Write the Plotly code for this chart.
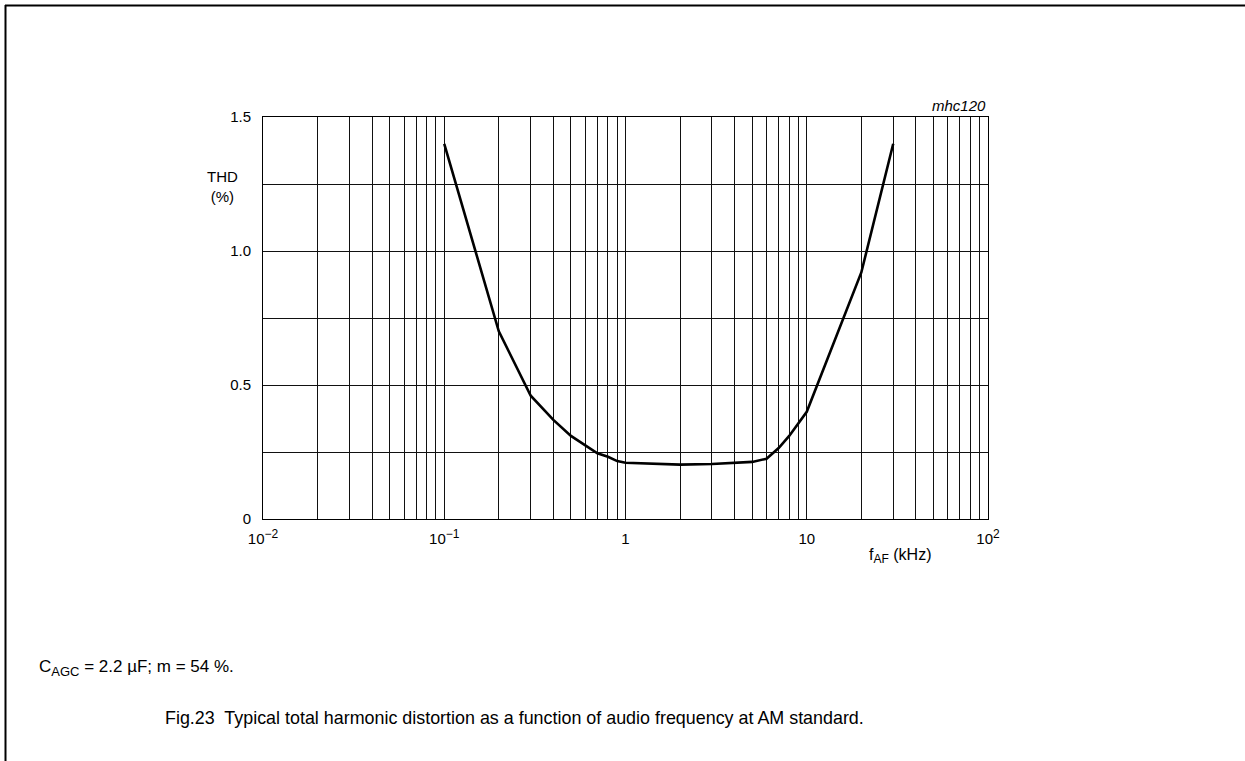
import plotly.graph_objects as go

# Data
freq_khz = [0.1, 0.2, 0.3, 0.4, 0.5, 0.6, 0.7, 0.8, 0.9, 1.0, 2.0, 3.0, 4.0, 5.0, 6.0, 7.0, 8.0, 10.0, 20.0, 30.0]
thd_pct = [1.40, 0.70, 0.46, 0.37, 0.31, 0.275, 0.245, 0.232, 0.216, 0.21, 0.203, 0.205, 0.208, 0.213, 0.225, 0.265, 0.31, 0.40, 0.92, 1.40]

SUP = '<sup><span style="font-size:12px">{}</span></sup>'
x_major = [0.01, 0.1, 1, 10, 100]
x_major_labels = ["10" + SUP.format("\u22122"), "10" + SUP.format("\u22121"), "1", "10", "10" + SUP.format("2")]
x_minor_mult = [2, 3, 4, 5, 6, 7, 8, 9]
y_ticks = [0, 0.5, 1.0, 1.5]
y_tick_labels = ["0", "0.5", "1.0", "1.5"]
y_minor = [0.25, 0.75, 1.25]

x_minor_vals = [d * m for d in x_major[:-1] for m in x_minor_mult]

FONT = "Liberation Sans, Arial, sans-serif"
W, H = 1245, 761
L, R, T, B = 263, 257, 117, 242
PW, PH = W - L - R, H - T - B


def px(xp):
    return (xp - L) / PW


def py(yp):
    return (H - B - yp) / PH


fig = go.Figure()
fig.add_trace(go.Scatter(
    x=freq_khz, y=thd_pct, mode="lines",
    line=dict(color="black", width=2.6),
    showlegend=False, hoverinfo="skip",
))

GRID = "#111"
fig.update_layout(
    width=W, height=H,
    margin=dict(l=L, r=R, t=T, b=B),
    paper_bgcolor="white", plot_bgcolor="white",
    font=dict(family=FONT, size=15, color="black"),
    xaxis=dict(
        type="log", range=[-2, 2],
        tickvals=x_major, ticktext=x_major_labels,
        showgrid=True, gridcolor=GRID, gridwidth=1,
        minor=dict(tickvals=x_minor_vals, showgrid=True, gridcolor=GRID, gridwidth=1, ticks=""),
        showline=True, linecolor="black", linewidth=1, mirror=True,
        ticks="", zeroline=False,
        tickfont=dict(size=15, family=FONT, color="black"),
        ticklabelstandoff=6,
    ),
    yaxis=dict(
        range=[0, 1.5],
        tickvals=y_ticks, ticktext=y_tick_labels,
        showgrid=True, gridcolor=GRID, gridwidth=1,
        minor=dict(tickvals=y_minor, showgrid=True, gridcolor=GRID, gridwidth=1, ticks=""),
        showline=True, linecolor="black", linewidth=1, mirror=True,
        ticks="", zeroline=False,
        tickfont=dict(size=15, family=FONT, color="black"),
        ticklabelstandoff=8,
    ),
    shapes=[
        dict(type="line", xref="paper", yref="paper", x0=px(5), x1=px(W + 2),
             y0=py(5.5), y1=py(5.5), line=dict(color="black", width=2)),
        dict(type="line", xref="paper", yref="paper", x0=px(5.5), x1=px(5.5),
             y0=py(5), y1=py(H + 2), line=dict(color="black", width=2)),
    ],
    annotations=[
        dict(text="THD<br>(%)", xref="paper", yref="paper", x=px(222), y=py(186),
             xanchor="center", yanchor="middle", showarrow=False,
             font=dict(size=15, family=FONT, color="black")),
        dict(text="<i>mhc120</i>", xref="paper", yref="paper", x=1.0, y=1.0,
             xanchor="right", yanchor="bottom", showarrow=False, yshift=1,
             font=dict(size=15, family=FONT, color="black")),
        dict(text='f<sub><span style="font-size:12px">AF</span></sub> (kHz)', xref="paper", yref="paper",
             x=px(900), y=py(556),
             xanchor="center", yanchor="middle", showarrow=False,
             font=dict(size=16, family=FONT, color="black")),
        dict(text='C<sub><span style="font-size:13px">AGC</span></sub> = 2.2 \u00b5F; m = 54 %.', xref="paper", yref="paper",
             x=px(37), y=py(668),
             xanchor="left", yanchor="middle", showarrow=False,
             font=dict(size=17, family=FONT, color="black")),
        dict(text="Fig.23  Typical total harmonic distortion as a function of audio frequency at AM standard.",
             xref="paper", yref="paper",
             x=px(163), y=py(718),
             xanchor="left", yanchor="middle", showarrow=False,
             font=dict(size=17.9, family=FONT, color="black")),
    ],
)

fig.write_html("out.html", config={"displayModeBar": False},
               post_script="document.body.style.margin='0';document.body.style.padding='0';")
